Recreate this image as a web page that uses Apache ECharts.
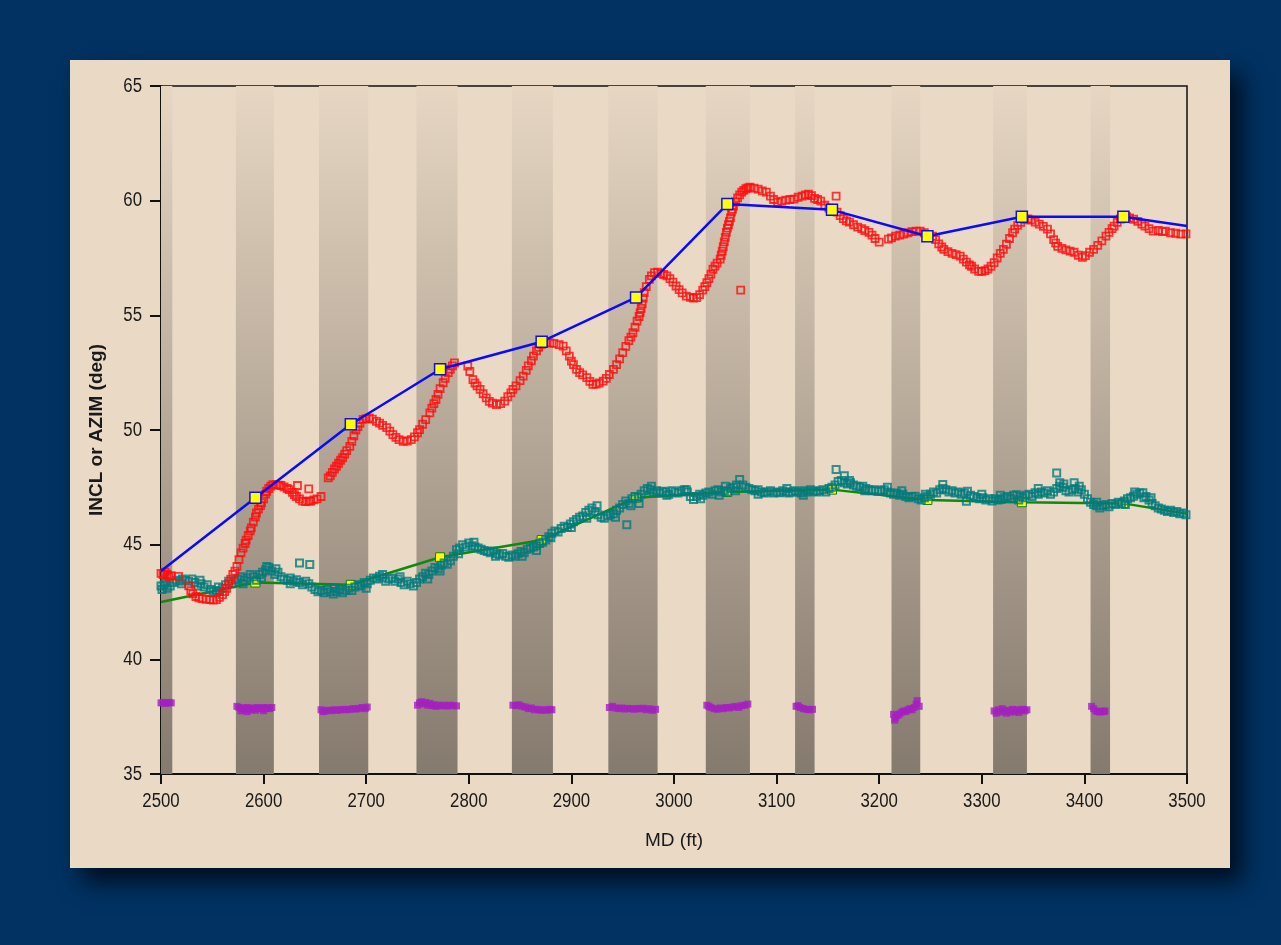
<!DOCTYPE html>
<html>
<head>
<meta charset="utf-8">
<title>INCL / AZIM vs MD</title>
<script src="https://cdn.jsdelivr.net/npm/echarts@6/dist/echarts.min.js"></script>
<style>
  html, body { margin: 0; padding: 0; background: #013262; width: 1281px; height: 945px; overflow: hidden; }
  #panel {
    position: absolute; left: 70px; top: 60px; width: 1160px; height: 808px;
    background: #e9d9c5;
    box-shadow: 12px 14px 22px rgba(0, 8, 20, 0.85);
  }
  #chart { width: 1160px; height: 808px; }
</style>
</head>
<body>
<div id="panel"><div id="chart"></div></div>
<script>
// Axis ticks
const xTicks = [2500, 2600, 2700, 2800, 2900, 3000, 3100, 3200, 3300, 3400, 3500];
const yTicks = [35, 40, 45, 50, 55, 60, 65];

// Shaded depth intervals (MD ft)
const bandStart = [2500, 2573, 2654, 2749, 2842, 2936, 3031, 3118, 3212, 3311, 3406];
const bandEnd   = [2511, 2610, 2702, 2789, 2882, 2984, 3074, 3137, 3240, 3344, 3425];

// Survey stations
const surveyMD   = [2592, 2685, 2772, 2871, 2963, 3052, 3154, 3247, 3339, 3438];
const surveyIncl = [47.05, 50.25, 52.65, 53.85, 55.78, 59.85, 59.6, 58.45, 59.3, 59.3];
const surveyAzim = [43.35, 43.25, 44.45, 45.2, 47.05, 47.3, 47.4, 46.95, 46.85, 46.8];
// Interpolated survey curves at the interval edges [MD, value]
const inclEnds = [[2500, 43.85], [3500, 58.9]];
const azimEnds = [[2500, 42.5], [3500, 46.35]];

// Continuous inclination measurements [MD, deg]
const inclMeas = [
  [2500,43.75],[2502,43.7],[2504,43.8],[2506,43.7],[2508,43.6],[2510,43.65],[2517,43.62],
  [2527,43.2],[2529,43.0],[2531,42.85],[2534,42.74],[2537,42.68],[2540,42.65],[2544,42.62],[2548,42.6],[2551,42.58],[2554,42.6],[2557,42.7],[2560,42.82],[2562,42.95],[2564,43.1],[2566,43.3],[2568,43.5],[2570,43.7],[2572,43.85],[2574,44.05],[2576,44.35],[2578,44.64],[2580,44.85],[2582,45.05],[2583,45.2],[2585,45.4],[2587,45.6],[2588,45.73],[2590,45.98],[2592,46.2],[2593,46.38],[2595,46.55],[2597,46.7],[2598,46.82],[2600,47.0],[2602,47.2],[2603,47.33],[2605,47.45],[2607,47.55],[2609,47.62],[2612,47.62],[2615,47.6],[2617,47.58],[2620,47.52],[2623,47.45],[2625,47.4],[2628,47.28],[2630,47.18],[2632,47.1],[2635,47.0],[2638,46.9],[2641,46.88],[2644,46.9],[2646,46.9],[2649,46.95],[2652,47.0],[2656,47.1],
  [2633,47.58],[2644,47.43],
  [2663,47.91],[2665,48.0],[2667,48.15],[2669,48.3],[2671,48.42],[2673,48.55],[2675,48.68],[2677,48.79],[2679,48.95],[2681,49.1],[2684,49.29],[2686,49.5],[2688,49.75],[2690,50.0],[2692,50.15],[2694,50.3],[2697,50.46],[2700,50.5],[2703,50.53],[2706,50.47],[2710,50.38],[2713,50.3],[2716,50.2],[2720,50.1],[2723,49.95],[2726,49.8],[2729,49.68],[2732,49.58],[2736,49.51],[2740,49.52],[2744,49.58],[2747,49.7],[2750,49.88],[2752,50.02],[2755,50.25],[2758,50.45],[2762,50.75],[2764,50.95],[2766,51.15],[2768,51.33],[2770,51.55],[2772,51.8],[2775,52.06],[2777,52.25],[2780,52.5],[2782,52.65],[2784,52.8],[2786,52.93],
  [2799,52.79],[2801,52.55],[2804,52.2],[2806,52.05],[2808,51.92],[2811,51.77],[2814,51.58],[2817,51.4],[2820,51.25],[2823,51.17],[2827,51.11],[2831,51.15],[2835,51.26],[2838,51.45],[2841,51.62],[2843,51.77],[2846,51.92],[2850,52.15],[2853,52.35],[2856,52.6],[2858,52.8],[2861,53.02],[2863,53.22],[2866,53.45],[2868,53.6],[2871,53.73],[2875,53.8],[2879,53.8],[2883,53.78],[2888,53.72],[2892,53.66],[2895,53.45],[2898,53.22],[2900,53.0],[2902,52.85],[2905,52.64],[2908,52.5],[2911,52.4],[2915,52.28],[2918,52.12],[2921,51.99],[2924,52.0],[2927,52.05],[2931,52.13],[2934,52.25],[2937,52.42],[2941,52.64],[2944,52.85],[2947,53.1],[2950,53.37],[2953,53.65],[2956,53.9],[2958,54.05],[2960,54.24],[2962,54.48],[2964,54.75],[2966,54.95],[2967,55.12],[2968,55.3],[2969,55.5],[2970,55.75],[2971,55.99],[2973,56.25],[2976,56.57],[2978,56.72],[2981,56.86],[2984,56.88],[2987,56.82],[2990,56.78],[2993,56.72],[2996,56.6],[2999,56.45],[3002,56.28],[3005,56.12],[3008,55.98],[3012,55.84],[3016,55.78],[3019,55.75],[3022,55.77],[3025,55.9],[3028,56.1],[3030,56.25],[3032,56.43],[3034,56.6],[3036,56.8],[3038,57.01],[3040,57.15],[3042,57.28],[3045,57.45],[3046,57.62],[3047,57.8],[3048,58.0],[3049,58.2],[3050,58.4],[3051,58.62],[3052,58.8],[3053,58.95],[3054,59.1],[3055,59.25],[3056,59.5],[3057,59.62],[3058,59.76],[3060,59.95],[3062,60.12],[3064,60.25],[3066,60.37],[3068,60.45],[3070,60.52],[3072,60.56],[3074,60.59],[3078,60.55],[3082,60.5],[3086,60.43],[3090,60.37],[3094,60.2],[3097,60.05],[3101,59.93],[3105,59.98],[3109,60.02],[3113,60.05],[3117,60.07],[3121,60.15],[3125,60.2],[3128,60.25],[3131,60.28],[3134,60.22],[3137,60.1],[3140,60.05],[3143,59.98],[3147,59.8],[3151,59.68],[3155,59.6],[3159,59.5],[3162,59.35],[3165,59.22],[3168,59.12],[3171,59.06],[3175,58.95],[3179,58.85],[3183,58.78],[3186,58.7],[3190,58.62],[3193,58.5],[3196,58.35],[3200,58.19],
  [3065,56.1],[3158,60.2],
  [3209,58.32],[3212,58.38],[3216,58.45],[3220,58.5],[3224,58.54],[3228,58.6],[3232,58.65],[3236,58.67],[3240,58.67],[3244,58.6],[3248,58.5],[3252,58.45],[3255,58.3],[3258,58.12],[3261,57.98],[3263,57.88],[3267,57.78],[3271,57.7],[3275,57.65],[3279,57.58],[3282,57.45],[3285,57.32],[3288,57.2],[3290,57.14],[3293,57.02],[3297,56.92],[3300,56.92],[3303,56.95],[3306,57.02],[3309,57.14],[3312,57.3],[3315,57.5],[3318,57.7],[3321,57.88],[3324,58.1],[3327,58.35],[3330,58.6],[3332,58.76],[3335,58.92],[3338,59.05],[3342,59.19],[3345,59.2],[3348,59.15],[3352,59.06],[3356,58.98],[3360,58.88],[3364,58.76],[3367,58.55],[3370,58.3],[3372,58.15],[3374,58.01],[3378,57.92],[3382,57.85],[3386,57.8],[3390,57.75],[3394,57.62],[3398,57.53],[3401,57.6],[3405,57.75],[3409,57.88],[3413,58.05],[3417,58.25],[3421,58.45],[3424,58.62],[3427,58.78],[3429,58.89],[3432,59.05],[3435,59.2],[3437,59.28],[3441,59.3],[3444,59.25],[3448,59.19],[3452,59.1],[3456,58.98],[3459,58.89],[3463,58.78],[3467,58.67],[3472,58.7],[3476,58.65],[3479,58.67],[3484,58.6],[3489,58.58],[3494,58.54],[3499,58.55]
];

// Continuous azimuth measurements [MD, deg]
const azimMeas = [
  [2500,43.2],[2501,43.05],[2503,43.25],[2506,43.1],[2509,43.2],[2512,43.35],[2515,43.45],[2518,43.4],[2521,43.5],[2524,43.45],[2527,43.4],[2530,43.5],[2533,43.35],[2536,43.2],[2539,43.3],[2542,43.15],[2545,43.25],[2548,43.05],[2551,42.95],[2554,43.0],[2557,42.96],[2560,43.1],[2563,43.25],[2566,43.4],[2569,43.3],[2572,43.45],[2575,43.5],[2578,43.6],[2581,43.45],[2584,43.55],[2587,43.7],[2590,43.6],[2593,43.45],[2596,43.7],[2599,43.8],[2602,43.9],[2605,44.0],[2608,43.85],[2611,43.7],[2614,43.8],[2617,43.6],[2620,43.5],[2623,43.45],[2626,43.55],[2629,43.4],[2632,43.47],[2635,43.35],[2638,43.25],[2641,43.4],[2644,43.3],[2647,43.15],[2650,43.05],[2653,42.95],[2656,43.0],[2659,42.9],[2662,43.05],[2665,42.95],[2668,42.85],[2671,42.96],[2674,43.05],[2677,42.9],[2680,43.0],[2683,43.1],[2686,43.0],[2689,43.15],[2692,43.25],[2695,43.2],[2698,43.35],[2701,43.3],[2704,43.45],[2707,43.55],[2710,43.5],[2713,43.62],[2716,43.55],[2719,43.4],[2722,43.5],[2725,43.55],[2728,43.4],[2731,43.5],[2734,43.35],[2737,43.25],[2740,43.4],[2743,43.3],[2746,43.2],[2749,43.35],[2752,43.5],[2755,43.6],[2758,43.75],[2761,43.7],[2764,43.85],[2767,44.0],[2770,43.95],[2773,44.1],[2776,44.2],[2779,44.15],[2782,44.3],[2785,44.5],[2788,44.78],[2791,44.85],[2794,45.0],[2797,44.9],[2800,45.07],[2803,44.95],[2806,44.9],[2809,44.85],[2812,44.8],[2815,44.75],[2818,44.7],[2821,44.65],[2824,44.72],[2827,44.6],[2830,44.55],[2833,44.62],[2836,44.5],[2839,44.45],[2842,44.55],[2845,44.5],[2848,44.6],[2851,44.7],[2854,44.65],[2857,44.8],[2860,44.85],[2863,44.9],[2866,44.95],[2869,45.05],[2872,45.1],[2875,45.2],[2878,45.35],[2881,45.5],[2884,45.6],[2887,45.55],[2890,45.7],[2893,45.8],[2896,45.75],[2899,45.9],[2902,46.0],[2905,46.1],[2908,46.2],[2911,46.25],[2914,46.4],[2917,46.5],[2920,46.6],[2923,46.45],[2926,46.3],[2929,46.2],[2932,46.15],[2935,46.25],[2938,46.3],[2941,46.35],[2944,46.5],[2947,46.6],[2950,46.75],[2953,46.9],[2956,46.8],[2959,47.0],[2962,47.1],[2965,47.05],[2968,47.2],[2971,47.35],[2974,47.45],[2977,47.4],[2980,47.3],[2983,47.35],[2986,47.25],[2989,47.33],[2992,47.3],[2995,47.2],[2998,47.35],[3001,47.3],[3004,47.25],[3007,47.35],[3010,47.4],[3013,47.3],[3016,47.1],[3019,46.97],[3022,47.1],[3025,47.2],[3028,47.15],[3031,47.25],[3034,47.3],[3037,47.2],[3040,47.35],[3043,47.4],[3046,47.3],[3049,47.35],[3052,47.3],[3055,47.45],[3058,47.5],[3061,47.6],[3064,47.84],[3067,47.6],[3070,47.5],[3073,47.45],[3076,47.4],[3079,47.35],[3082,47.4],[3085,47.3],[3088,47.25],[3091,47.3],[3094,47.35],[3097,47.25],[3100,47.3],[3103,47.26],[3106,47.35],[3109,47.3],[3112,47.25],[3115,47.3],[3118,47.35],[3121,47.3],[3124,47.25],[3127,47.35],[3130,47.3],[3133,47.4],[3136,47.33],[3139,47.3],[3142,47.35],[3145,47.4],[3148,47.3],[3151,47.45],[3154,47.5],[3157,47.6],[3160,47.75],[3163,47.8],[3166,47.7],[3169,47.65],[3172,47.7],[3175,47.6],[3178,47.55],[3181,47.5],[3184,47.55],[3187,47.45],[3190,47.4],[3193,47.35],[3196,47.4],[3199,47.33],[3202,47.35],[3205,47.4],[3208,47.3],[3211,47.25],[3214,47.2],[3217,47.25],[3220,47.15],[3223,47.2],[3226,47.1],[3229,47.05],[3232,47.1],[3235,47.11],[3238,47.0],[3241,46.95],[3244,47.05],[3247,47.1],[3250,47.2],[3253,47.3],[3256,47.25],[3259,47.4],[3262,47.62],[3265,47.4],[3268,47.3],[3271,47.35],[3274,47.25],[3277,47.3],[3280,47.2],[3283,47.25],[3286,47.33],[3289,47.15],[3292,47.1],[3295,47.05],[3298,47.0],[3301,47.05],[3304,46.95],[3307,47.0],[3310,46.9],[3313,47.0],[3316,46.95],[3319,46.97],[3322,47.05],[3325,47.1],[3328,47.0],[3331,47.15],[3334,47.18],[3337,47.1],[3340,47.05],[3343,47.15],[3346,47.2],[3349,47.1],[3352,47.26],[3355,47.2],[3358,47.3],[3361,47.25],[3364,47.35],[3367,47.2],[3370,47.3],[3373,47.45],[3376,47.7],[3379,47.5],[3382,47.35],[3385,47.3],[3388,47.4],[3391,47.45],[3394,47.3],[3397,47.4],[3400,47.2],[3403,47.0],[3406,46.85],[3409,46.75],[3412,46.7],[3415,46.6],[3418,46.7],[3421,46.75],[3424,46.65],[3427,46.8],[3430,46.75],[3433,46.85],[3436,46.8],[3439,46.9],[3442,47.0],[3445,47.05],[3448,47.11],[3451,47.2],[3454,47.25],[3457,47.26],[3460,47.1],[3463,46.95],[3466,46.8],[3469,46.7],[3472,46.6],[3475,46.55],[3478,46.5],[3481,46.45],[3484,46.5],[3487,46.4],[3490,46.45],[3493,46.35],[3496,46.38],[3499,46.3],
  [2504,43.35],[2520,43.3],[2538,43.45],[2556,43.15],[2580,43.3],[2598,43.55],[2603,44.05],[2635,44.2],[2645,44.13],[2612,43.95],[2626,43.3],[2669,43.1],[2700,43.1],[2716,43.7],[2733,43.6],[2760,43.5],[2772,43.85],[2790,44.6],[2805,45.1],[2826,44.5],[2852,44.5],[2866,44.75],[2880,45.3],[2900,45.75],[2915,46.15],[2925,46.7],[2943,46.2],[2954,45.87],[2958,46.7],[2966,46.8],[2978,47.55],[2993,47.15],[3012,47.4],[3026,47.0],[3044,47.15],[3050,47.55],[3060,47.35],[3082,47.2],[3110,47.45],[3126,47.15],[3158,48.28],[3166,48.0],[3171,47.8],[3186,47.35],[3208,47.5],[3222,47.35],[3245,47.2],[3262,47.45],[3285,46.89],[3300,47.2],[3318,47.15],[3336,46.95],[3355,47.45],[3373,48.13],[3376,47.55],[3380,47.65],[3390,47.7],[3395,47.55],[3412,46.85],[3440,46.75],[3449,47.3],[3458,47.05],[3465,47.05]
];

// Tool-face readings within the shaded intervals [MD, deg]
const gammaMeas = [
  [2500,38.1],[2502,38.12],[2504,38.08],[2506,38.1],[2508,38.12],[2510,38.1],
  [2574,37.95],[2576,37.9],[2578,37.85],[2580,37.88],[2582,37.82],[2584,37.9],[2586,37.85],[2588,37.8],[2590,37.88],[2592,37.85],[2594,37.9],[2596,37.86],[2598,37.84],[2600,37.9],[2602,37.86],[2604,37.88],[2606,37.85],[2608,37.9],[2578,37.75],[2584,37.72],[2592,37.78],[2600,37.76],
  [2656,37.8],[2658,37.72],[2660,37.75],[2663,37.78],[2666,37.76],[2669,37.8],[2672,37.78],[2675,37.8],[2678,37.82],[2681,37.8],[2684,37.82],[2687,37.85],[2690,37.83],[2693,37.86],[2696,37.9],[2699,37.85],[2701,37.92],
  [2750,38.0],[2752,38.1],[2754,38.15],[2756,38.05],[2758,38.12],[2760,38.0],[2762,38.08],[2764,37.98],[2766,38.02],[2768,37.95],[2770,38.0],[2773,37.97],[2776,38.0],[2779,37.96],[2782,38.0],[2785,37.98],[2788,37.97],
  [2843,38.0],[2846,37.98],[2849,38.02],[2852,37.95],[2855,37.92],[2858,37.85],[2861,37.88],[2864,37.8],[2867,37.82],[2870,37.78],[2873,37.8],[2876,37.78],[2879,37.82],[2881,37.8],
  [2937,37.9],[2940,37.95],[2943,37.88],[2946,37.85],[2949,37.88],[2952,37.83],[2955,37.86],[2958,37.85],[2961,37.82],[2964,37.86],[2967,37.84],[2970,37.87],[2973,37.8],[2976,37.85],[2979,37.78],[2982,37.82],
  [3032,38.0],[3034,37.95],[3036,37.9],[3039,37.85],[3042,37.82],[3045,37.88],[3048,37.85],[3051,37.9],[3054,37.88],[3057,37.92],[3060,37.95],[3063,37.9],[3066,37.98],[3069,38.0],[3072,38.05],
  [3119,37.95],[3121,37.98],[3123,37.9],[3126,37.85],[3129,37.82],[3132,37.8],[3135,37.82],
  [3214,37.6],[3215,37.35],[3216,37.45],[3218,37.55],[3220,37.62],[3222,37.7],[3224,37.75],[3226,37.72],[3228,37.8],[3230,37.85],[3232,37.8],[3234,37.9],[3236,38.05],[3237,38.2],[3239,37.95],
  [3312,37.75],[3314,37.65],[3316,37.8],[3318,37.7],[3320,37.85],[3322,37.75],[3324,37.65],[3326,37.78],[3328,37.7],[3330,37.82],[3332,37.72],[3334,37.8],[3336,37.68],[3338,37.78],[3340,37.82],[3342,37.75],[3344,37.8],
  [3407,37.95],[3409,37.85],[3411,37.75],[3413,37.72],[3415,37.7],[3417,37.74],[3419,37.72],[3420,37.75]
];

function surveyLine(ends, values) {
  const pts = [{ value: ends[0], symbol: 'none' }];
  surveyMD.forEach((md, i) => pts.push([md, values[i]]));
  pts.push({ value: ends[1], symbol: 'none' });
  return pts;
}

const bandFill = {
  type: 'linear', x: 0, y: 0, x2: 0, y2: 1,
  colorStops: [
    { offset: 0, color: '#e6d6c2' },
    { offset: 0.5, color: '#b6a898' },
    { offset: 1, color: '#857a6e' }
  ]
};

const sansFont = "'Liberation Sans', Arial, sans-serif";
const inkColor = '#1a1a1a';

const chart = echarts.init(document.getElementById('chart'), null, { renderer: 'canvas' });
chart.setOption({
  animation: false,
  backgroundColor: 'transparent',
  grid: {
    left: 91, top: 26, width: 1026, height: 688,
    show: true, borderColor: '#111', borderWidth: 1.5, backgroundColor: 'transparent'
  },
  xAxis: {
    type: 'value',
    min: xTicks[0], max: xTicks[xTicks.length - 1], interval: xTicks[1] - xTicks[0],
    name: 'MD (ft)', nameLocation: 'middle', nameGap: 57,
    nameTextStyle: { fontFamily: sansFont, fontSize: 19, color: inkColor },
    axisLine: { lineStyle: { color: '#111', width: 2 } },
    axisTick: { length: 10, lineStyle: { color: '#111', width: 2 } },
    axisLabel: { show: false },
    splitLine: { show: false }
  },
  yAxis: {
    type: 'value',
    min: yTicks[0], max: yTicks[yTicks.length - 1], interval: yTicks[1] - yTicks[0],
    name: 'INCL or AZIM (deg)', nameLocation: 'middle', nameGap: 55,
    nameTextStyle: { fontFamily: sansFont, fontSize: 19, fontWeight: 'bold', color: inkColor },
    axisLine: { lineStyle: { color: '#111', width: 2 } },
    axisTick: { length: 11, lineStyle: { color: '#111', width: 2 } },
    axisLabel: { show: false },
    splitLine: { show: false }
  },
  series: [
    {
      name: 'AZIM survey', type: 'line', z: 2,
      data: surveyLine(azimEnds, surveyAzim),
      symbol: 'rect', symbolSize: 9,
      itemStyle: { color: '#ffff00', borderColor: '#1d7a10', borderWidth: 1 },
      lineStyle: { color: '#0f8a0f', width: 2.5 },
      markArea: {
        silent: true,
        itemStyle: { color: bandFill },
        data: bandStart.map((s, i) => [{ xAxis: s }, { xAxis: bandEnd[i] }])
      }
    },
    {
      name: 'AZIM', type: 'scatter', z: 3,
      data: azimMeas, symbol: 'rect', symbolSize: 7,
      itemStyle: { color: 'rgba(0,0,0,0)', borderColor: '#037b7c', borderWidth: 2 }
    },
    {
      name: 'INCL', type: 'scatter', z: 3,
      data: inclMeas, symbol: 'rect', symbolSize: 7,
      itemStyle: { color: 'rgba(0,0,0,0)', borderColor: '#ff0d0d', borderWidth: 1.8 }
    },
    {
      name: 'GTF', type: 'scatter', z: 3,
      data: gammaMeas, symbol: 'rect', symbolSize: 7,
      itemStyle: { color: '#a51fc0' }
    },
    {
      name: 'INCL survey', type: 'line', z: 4,
      data: surveyLine(inclEnds, surveyIncl),
      symbol: 'rect', symbolSize: 11,
      itemStyle: { color: '#ffff00', borderColor: '#1010e0', borderWidth: 1.5 },
      lineStyle: { color: '#0a0aff', width: 2.5 }
    }
  ]
});

// Tick labels in a condensed face, placed at the axis tick positions
const tickText = [];
xTicks.forEach(v => {
  const p = chart.convertToPixel({ gridIndex: 0 }, [v, yTicks[0]]);
  tickText.push({
    type: 'text', x: p[0], y: p[1] + 27, scaleX: 0.84, silent: true,
    style: { text: String(v), fontFamily: sansFont, fontSize: 20, fill: inkColor, align: 'center', verticalAlign: 'middle' }
  });
});
yTicks.forEach(v => {
  const p = chart.convertToPixel({ gridIndex: 0 }, [xTicks[0], v]);
  tickText.push({
    type: 'text', x: p[0] - 19, y: p[1], scaleX: 0.84, silent: true,
    style: { text: String(v), fontFamily: sansFont, fontSize: 20, fill: inkColor, align: 'right', verticalAlign: 'middle' }
  });
});
chart.setOption({ graphic: tickText });
</script>
</body>
</html>
